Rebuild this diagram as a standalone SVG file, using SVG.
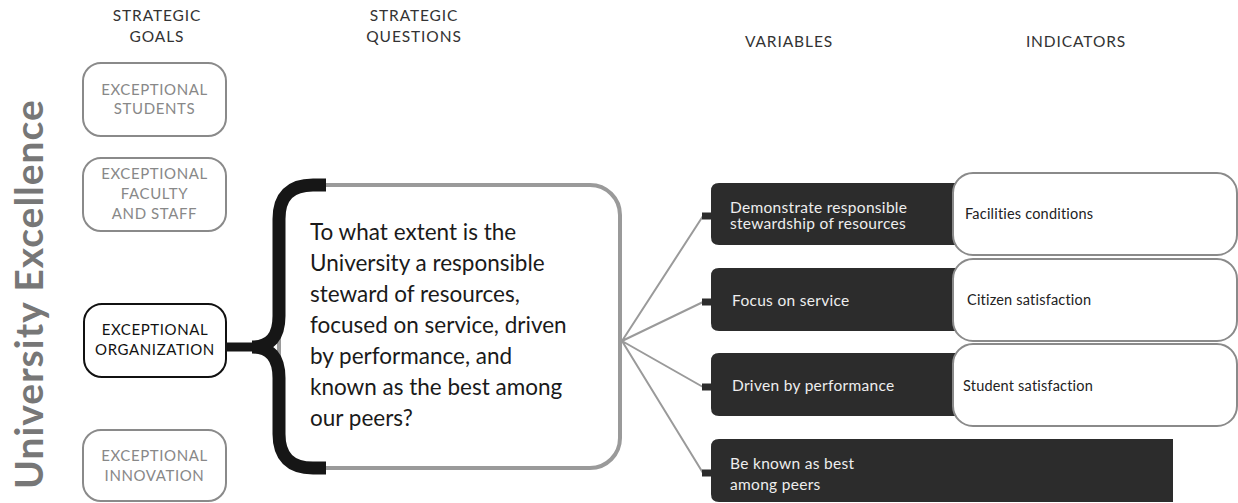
<svg xmlns="http://www.w3.org/2000/svg" width="1238" height="503" viewBox="0 0 1238 503">
<style>
text{font-family:Lato,"Open Sans","Liberation Sans",sans-serif}
.hdr{font-size:15.5px;fill:#333;text-anchor:middle;letter-spacing:0.9px}
.goal{fill:#fff;stroke:#8a8a8a;stroke-width:2}
.goalt{font-size:15px;fill:#888;text-anchor:middle;letter-spacing:0.6px}
.var{fill:#2c2c2c}
.vart{font-size:15.5px;fill:#eee;letter-spacing:0.3px}
.ind{fill:#fff;stroke:#8a8a8a;stroke-width:2}
.indt{font-size:14.5px;fill:#222;letter-spacing:0.2px}
.fan{stroke:#9a9a9a;stroke-width:2;fill:none}
.stub{fill:#2c2c2c}
.q{font-size:22.5px;fill:#1a1a1a}
</style>
<rect width="1238" height="503" fill="#fff"/>
<g id="headers">
<text class="hdr" x="157" y="21">STRATEGIC</text>
<text class="hdr" x="157" y="42">GOALS</text>
<text class="hdr" x="414" y="21">STRATEGIC</text>
<text class="hdr" x="414" y="42">QUESTIONS</text>
<text class="hdr" x="789" y="47">VARIABLES</text>
<text class="hdr" x="1076" y="47">INDICATORS</text>
</g>
<g id="title">
<text x="43" y="294" transform="rotate(-90 43 294)" text-anchor="middle" font-size="39" font-weight="700" fill="#777" letter-spacing="1">University Excellence</text>
</g>
<g id="goal-students">
<rect class="goal" x="83" y="63" width="143" height="73" rx="18"/>
<text class="goalt" x="154.5" y="95">EXCEPTIONAL</text>
<text class="goalt" x="154.5" y="114">STUDENTS</text>
</g>
<g id="goal-faculty">
<rect class="goal" x="83" y="158" width="143" height="73" rx="18"/>
<text class="goalt" x="154.5" y="179">EXCEPTIONAL</text>
<text class="goalt" x="154.5" y="199">FACULTY</text>
<text class="goalt" x="154.5" y="219">AND STAFF</text>
</g>
<g id="goal-organization">
<rect x="84" y="304" width="142" height="73" rx="18" fill="#fff" stroke="#111" stroke-width="2"/>
<text class="goalt" x="155" y="335" style="fill:#111">EXCEPTIONAL</text>
<text class="goalt" x="155" y="355" style="fill:#111">ORGANIZATION</text>
</g>
<g id="goal-innovation">
<rect class="goal" x="83" y="430" width="143" height="71" rx="18"/>
<text class="goalt" x="154.5" y="461">EXCEPTIONAL</text>
<text class="goalt" x="154.5" y="481">INNOVATION</text>
</g>
<g id="question">
<rect x="279" y="185" width="341" height="283" rx="30" fill="#fff" stroke="#9a9a9a" stroke-width="4"/>
<path d="M326,185 H313 Q279,185 279,219 V316 Q279,347 252,347 Q279,347 279,378 V434 Q279,468 313,468 H326" fill="none" stroke="#161616" stroke-width="13"/>
<path d="M225,347 H262" stroke="#161616" stroke-width="9"/>
<text class="q" x="310" y="240">To what extent is the</text>
<text class="q" x="310" y="271">University a responsible</text>
<text class="q" x="310" y="302">steward of resources,</text>
<text class="q" x="310" y="333">focused on service, driven</text>
<text class="q" x="310" y="364">by performance, and</text>
<text class="q" x="310" y="395">known as the best among</text>
<text class="q" x="310" y="426">our peers?</text>
</g>
<g id="connectors">
<path class="fan" d="M622,341 L703,216 M622,341 L703,302 M622,341 L703,387 M622,341 L703,473"/>
<rect class="stub" x="702" y="212.5" width="10" height="7"/>
<rect class="stub" x="702" y="298.5" width="10" height="7"/>
<rect class="stub" x="702" y="383.5" width="10" height="7"/>
<rect class="stub" x="702" y="469.5" width="10" height="7"/>
</g>
<g id="var-stewardship">
<path class="var" d="M719,183 H1000 V245 H719 Q711,245 711,237 V191 Q711,183 719,183 Z"/>
<text class="vart" x="730" y="213">Demonstrate responsible</text>
<text class="vart" x="730" y="229">stewardship of resources</text>
</g>
<g id="var-service">
<path class="var" d="M719,268 H1000 V331 H719 Q711,331 711,323 V276 Q711,268 719,268 Z"/>
<text class="vart" x="732" y="306">Focus on service</text>
</g>
<g id="var-performance">
<path class="var" d="M719,353 H1000 V416 H719 Q711,416 711,408 V361 Q711,353 719,353 Z"/>
<text class="vart" x="732" y="391">Driven by performance</text>
</g>
<g id="var-peers">
<path class="var" d="M719,439 H1173 V502 H719 Q711,502 711,494 V447 Q711,439 719,439 Z"/>
<text class="vart" x="730" y="469">Be known as best</text>
<text class="vart" x="730" y="490">among peers</text>
</g>
<g id="ind-facilities">
<rect class="ind" x="953" y="173" width="284" height="82" rx="20"/>
<text class="indt" x="965" y="219">Facilities conditions</text>
</g>
<g id="ind-citizen">
<rect class="ind" x="953" y="259" width="284" height="82" rx="20"/>
<text class="indt" x="967" y="305">Citizen satisfaction</text>
</g>
<g id="ind-student">
<rect class="ind" x="953" y="344" width="284" height="82" rx="20"/>
<text class="indt" x="963" y="391">Student satisfaction</text>
</g>
</svg>
